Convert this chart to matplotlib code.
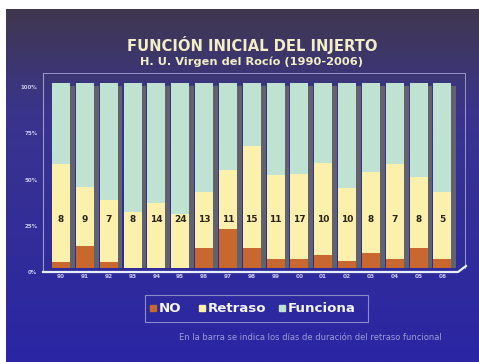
import numpy as np
import matplotlib
matplotlib.use("Agg")
import matplotlib.pyplot as plt
from matplotlib.patches import Rectangle
from matplotlib.transforms import ScaledTranslation

years = ["90", "91", "92", "93", "94", "95", "96", "97", "98", "99",
         "00", "01", "02", "03", "04", "05", "06"]
no_func = [3, 12, 3, 0, 0, 0, 11, 21, 11, 5, 5, 7, 4, 8, 5, 11, 5]
retraso = [53, 32, 34, 30, 35, 29, 30, 32, 55, 45, 46, 50, 39, 44, 51, 38, 36]
funciona = [100 - a - b for a, b in zip(no_func, retraso)]
dias = [8, 9, 7, 8, 14, 24, 13, 11, 15, 11, 17, 10, 10, 8, 7, 8, 5]
ytick_labels = ["0%", "25%", "50%", "75%", "100%"]

C_NO = "#c8672e"
C_RET = "#fbf0ac"
C_FUN = "#c0e2d3"
C_SIDE = "#62626c"

W, H = 479, 362
fig = plt.figure(figsize=(W / 100, H / 100), dpi=100)
fig.patch.set_facecolor("white")

def px(x0, y0, x1, y1):
    """Pixel box (top-left origin) -> figure fraction rect."""
    return [x0 / W, 1 - y1 / H, (x1 - x0) / W, (y1 - y0) / H]

# slide background with vertical gradient
bg = fig.add_axes(px(6, 9, W, H))
bg.set_axis_off()
top = np.array([64, 56, 78]) / 255
mid = np.array([58, 52, 142]) / 255
bot = np.array([42, 38, 164]) / 255
t = np.linspace(0, 1, 300)[:, None]
grad = np.where(t < 0.3, top + (mid - top) * (t / 0.3),
                mid + (bot - mid) * ((t - 0.3) / 0.7))
bg.imshow(grad[:, None, :].repeat(2, axis=1), aspect="auto",
          extent=[0, 1, 0, 1], interpolation="bilinear")
bg.set_xlim(0, 1)
bg.set_ylim(0, 1)

# back wall frame and floor edge
frame = fig.add_axes(px(0, 0, W, H))
frame.set_axis_off()
frame.set_xlim(0, W)
frame.set_ylim(H, 0)
frame.plot([43, 465, 465], [73, 73, 268], color="#9a9ac8", lw=0.7)
frame.plot([43, 43], [73, 272], color="#9a9ac8", lw=0.8)
frame.plot([43, 458, 466], [272, 272, 266], color="#e8eef8", lw=1.6)

ax = fig.add_axes(px(43, 82, 463, 268))
ax.set_facecolor("none")
x = np.arange(len(years))
bw = 0.755
no_a = np.array(no_func)
ret_a = np.array(retraso)
fun_a = np.array(funciona)
total = no_a + ret_a + fun_a

# 3D depth of each bar
ax.bar(x + 0.2, total, bottom=-1.5, width=bw, color=C_SIDE, zorder=1)
ax.bar(x, no_a, width=bw, color=C_NO, zorder=2)
ax.bar(x, ret_a, bottom=no_a, width=bw, color=C_RET, zorder=2)
ax.bar(x, fun_a, bottom=no_a + ret_a, width=bw, color=C_FUN, zorder=2)
for xi, d in zip(x, dias):
    ax.text(xi, 26, str(d), ha="center", va="center", fontsize=6.5,
            fontweight="bold", color="#2a2418", zorder=3)

ax.set_xlim(-0.755, 16.86)
ax.set_ylim(0, 100.5)
for s in ax.spines.values():
    s.set_visible(False)
ax.set_yticks([0, 25, 50, 75, 100])
ax.set_yticklabels(ytick_labels, fontsize=4, color="#c8c8ea", fontweight="bold")
ax.set_xticks(x)
ax.set_xticklabels(years, fontsize=4.2, color="#c8c8ea", fontweight="bold")
ax.tick_params(length=0, pad=4)
off = ScaledTranslation(0, -3 / 72, fig.dpi_scale_trans)
for lab in ax.get_yticklabels():
    lab.set_transform(lab.get_transform() + off)

fig.text(252 / W, 1 - 45 / H, "FUNCIÓN INICIAL DEL INJERTO", ha="center",
         va="center", fontsize=10.6, fontweight="bold", color="#f2eec8")
fig.text(251 / W, 1 - 62 / H, "H. U. Virgen del Rocío (1990-2006)", ha="center",
         va="center", fontsize=8.2, fontweight="bold", color="#f2eec8")

# legend
frame.add_patch(Rectangle((145, 295), 223, 27, fill=False,
                          edgecolor="#8c8cc8", lw=0.8))
items = [("NO", C_NO, 150), ("Retraso", C_RET, 199), ("Funciona", C_FUN, 279)]
for name, col, x0 in items:
    frame.add_patch(Rectangle((x0, 305), 6, 6, color=col))
    frame.text(x0 + 9, 308.5, name, ha="left", va="center", fontsize=9.6,
               fontweight="bold", color="#f4f4fb")

fig.text(310 / W, 1 - 337 / H,
         "En la barra se indica los días de duración del retraso funcional",
         ha="center", va="center", fontsize=6, color="#9c9cd8")

fig.savefig("out.png", dpi=100, facecolor=fig.get_facecolor())
